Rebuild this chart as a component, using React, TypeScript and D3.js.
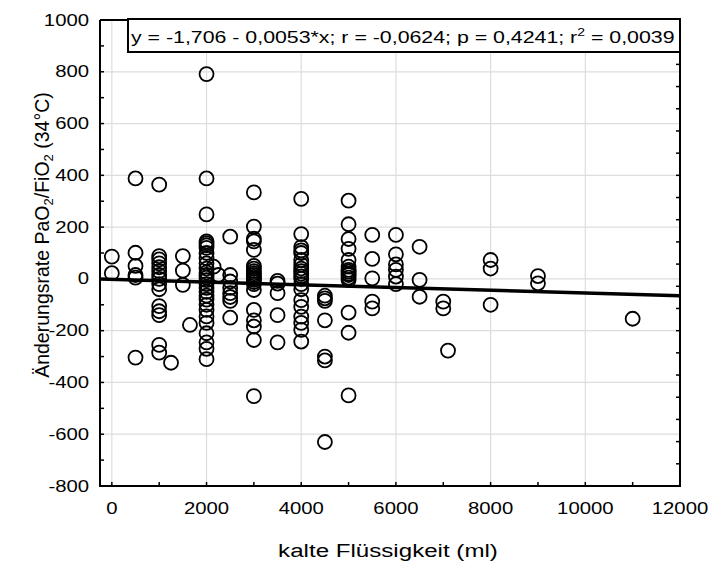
import React from "react";
import * as d3 from "d3";

// x groups (ml of cold fluid) and the observed y values at each
const groupX: number[] = [0, 500, 1000, 1250, 1500, 1650, 2000, 2150, 2250, 2500, 3000, 3500, 4000, 4500, 5000, 5500, 6000, 6500, 7000, 7100, 8000, 9000, 11000];
const groupY: number[][] = [
  [86, 22],
  [388, 101, 50, 15, 5, -304],
  [364, 88, 75, 60, 45, 30, 15, 0, -20, -40, -105, -125, -140, -255, -285],
  [-324],
  [88, 32, -23],
  [-178],
  [791, 388, 249, 145, 138, 130, 120, 100, 80, 60, 40, 25, 15, 5, -5, -20, -35, -50, -65, -80, -100, -120, -145, -170, -210, -245, -270, -310],
  [47],
  [15],
  [163, 15, -10, -35, -55, -70, -85, -150],
  [334, 202, 155, 145, 112, 50, 40, 30, 22, 15, 8, 2, -4, -12, -20, -43, -120, -160, -184, -236, -453],
  [-8, -18, -55, -140, -245],
  [309, 173, 123, 110, 100, 73, 55, 40, 30, 20, 10, 0, -20, -40, -82, -108, -146, -170, -197, -242],
  [-65, -75, -85, -160, -300, -315, -630],
  [302, 211, 154, 116, 73, 47, 35, 28, 20, 15, 5, -4, -130, -208, -450],
  [170, 77, 2, -88, -114],
  [170, 95, 56, 35, 9, -20],
  [124, -4, -69],
  [-88, -114],
  [-277],
  [73, 40, -100],
  [11, -17],
  [-154],
];

const regIntercept = -1.706;
const regSlope = -0.0053;

const xTicks: number[] = [0, 2000, 4000, 6000, 8000, 10000, 12000];
const yTicks: number[] = [-800, -600, -400, -200, 0, 200, 400, 600, 800, 1000];
const xTitle = "kalte Flüssigkeit (ml)";
const statsText = "y = -1,706 - 0,0053*x; r = -0,0624; p = 0,4241; r";
const statsTail = " = 0,0039";

const W = 710, H = 562;
const L = 100, R = 680, T = 20, B = 486;
const SX = 1.27; // horizontal text stretch
const FONT = "'Liberation Sans', Arial, sans-serif";

export default function App() {
  const x = d3.scaleLinear().domain([-250, 12000]).range([L, R]);
  const y = d3.scaleLinear().domain([-800, 1000]).range([B, T]);
  const rightScale = d3.scaleLinear().domain([0, 21]).range([B, T]);

  const points = groupX.flatMap((gx, i) => groupY[i].map((v) => ({ x: gx, y: v })));
  const line = d3.line<number>().x((d) => x(d)).y((d) => y(regIntercept + regSlope * d));
  const minorY = d3.range(-800, 1001, 100);
  const minorX = d3.range(0, 12001, 1000);

  return (
    <svg width={W} height={H} style={{ position: "absolute", left: 0, top: 0, background: "#fff" }} fontFamily={FONT}>
      <rect x={0} y={0} width={W} height={H} fill="#fff" />
      {/* grid */}
      {xTicks.filter((t) => t < 12000).map((t) => (
        <line key={"gx" + t} x1={x(t)} x2={x(t)} y1={T} y2={B} stroke="#dddddd" strokeWidth={1.2} />
      ))}
      {yTicks.filter((t) => t > -800 && t < 1000).map((t) => (
        <line key={"gy" + t} x1={L} x2={R} y1={y(t)} y2={y(t)} stroke="#dddddd" strokeWidth={1.2} />
      ))}
      {/* points */}
      {points.map((p, i) => (
        <circle key={i} cx={x(p.x)} cy={y(p.y)} r={7} fill="none" stroke="#000" strokeWidth={1.8} />
      ))}
      {/* regression line */}
      <path d={line([-250, 12000]) || ""} stroke="#000" strokeWidth={3.5} fill="none" />
      {/* axes frame */}
      <path d={`M${L},${T}V${B}H${R}V${T}`} stroke="#000" strokeWidth={2} fill="none" />
      <line x1={L} x2={R} y1={T} y2={T} stroke="#000" strokeWidth={2} />
      {/* left ticks */}
      {minorY.map((t) => (
        <line key={"ly" + t} x1={L} x2={L + 4} y1={y(t)} y2={y(t)} stroke="#000" strokeWidth={1.5} />
      ))}
      {/* bottom ticks */}
      {minorX.map((t) => (
        <line key={"bx" + t} x1={x(t)} x2={x(t)} y1={B} y2={B - 4} stroke="#000" strokeWidth={1.5} />
      ))}
      {/* right ticks */}
      {d3.range(1, 20).map((t) => (
        <line key={"ry" + t} x1={R} x2={R - 4} y1={rightScale(t)} y2={rightScale(t)} stroke="#000" strokeWidth={1.5} />
      ))}
      {/* tick labels */}
      {yTicks.map((t) => (
        <text key={"yl" + t} transform={`translate(89,${y(t)}) scale(${SX},1)`} dy="0.35em" textAnchor="end" fontSize={16} fill="#000">{t}</text>
      ))}
      {xTicks.map((t) => (
        <text key={"xl" + t} transform={`translate(${x(t)},514) scale(${SX},1)`} textAnchor="middle" fontSize={16} fill="#000">{t}</text>
      ))}
      {/* axis titles */}
      <text transform={`translate(388,557) scale(${SX},1)`} textAnchor="middle" fontSize={19} fill="#000">{xTitle}</text>
      <text transform={`translate(42,235) rotate(-90)`} textAnchor="middle" dy="0.35em" fontSize={19.5} fill="#000">
        Änderungsrate PaO<tspan fontSize={13} dy={4}>2</tspan><tspan dy={-4}>/FiO</tspan><tspan fontSize={13} dy={4}>2</tspan><tspan dy={-4}> (34°C)</tspan>
      </text>
      {/* stats box */}
      <rect x={128} y={19} width={R - 128} height={33} fill="#fff" stroke="#000" strokeWidth={2} />
      <text transform={`translate(131,43) scale(${SX},1)`} fontSize={16.8} fill="#000">
        {statsText}<tspan fontSize={11} dy={-7}>2</tspan><tspan dy={7}>{statsTail}</tspan>
      </text>
    </svg>
  );
}
